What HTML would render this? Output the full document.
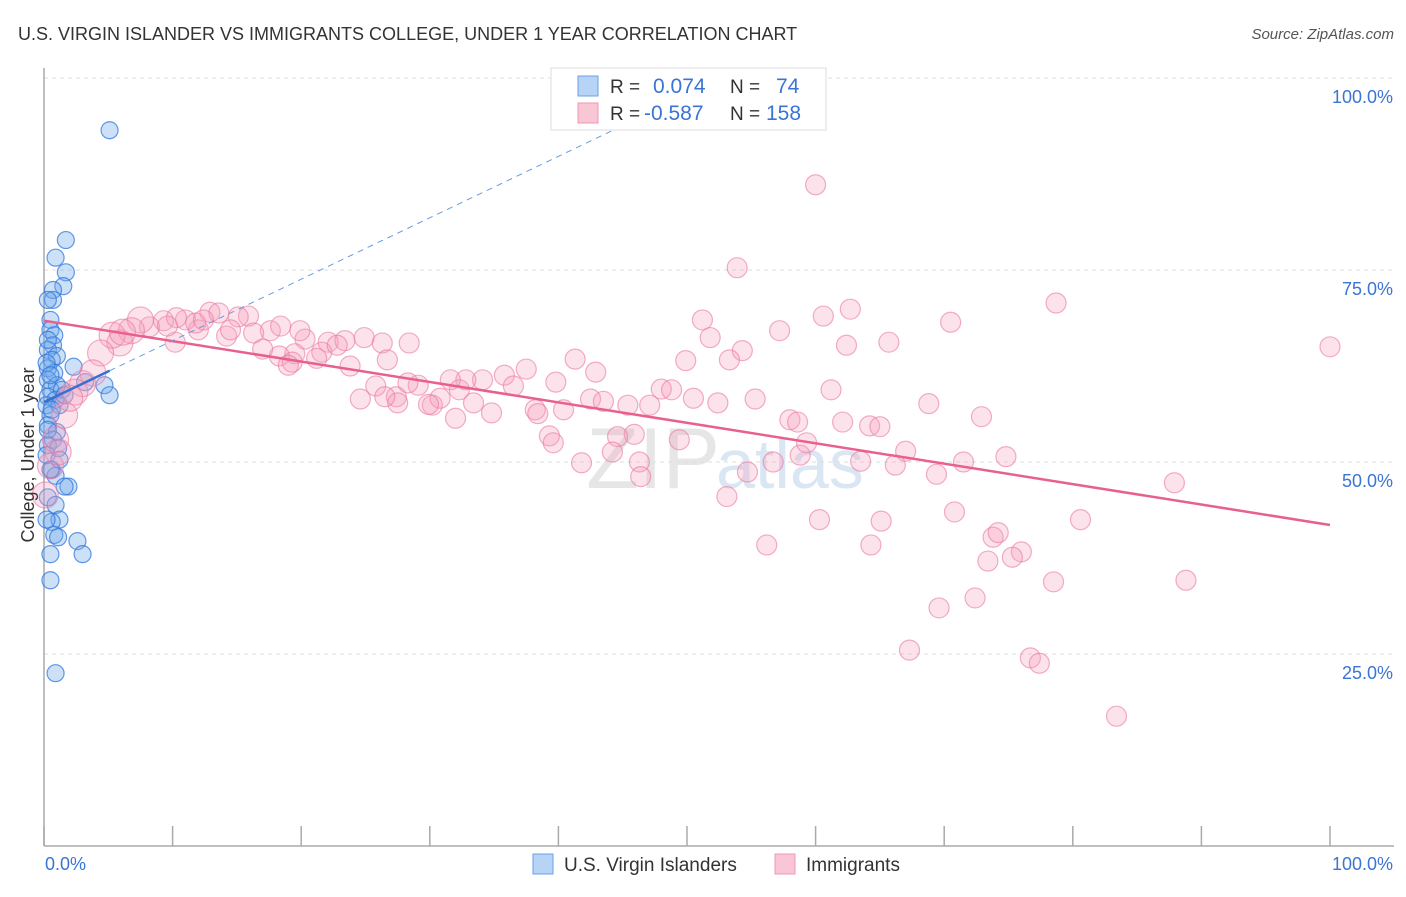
<!DOCTYPE html>
<html><head><meta charset="utf-8"><style>
body{margin:0;background:#fff;width:1406px;height:892px;overflow:hidden;font-family:"Liberation Sans",sans-serif}
svg text{font-family:"Liberation Sans",sans-serif}
</style></head><body>
<svg id="chart" width="1406" height="892" xmlns="http://www.w3.org/2000/svg">
<text x="18" y="40" font-size="18" fill="#333">U.S. VIRGIN ISLANDER VS IMMIGRANTS COLLEGE, UNDER 1 YEAR CORRELATION CHART</text>
<text x="1394" y="39" font-size="15" fill="#555" font-style="italic" text-anchor="end">Source: ZipAtlas.com</text>
<text x="720" y="488" font-size="86" fill="#e6e6e6" text-anchor="end" font-family="Liberation Serif">ZIP</text>
<text x="716" y="488" font-size="70" fill="#dbe6f5">atlas</text>
<g id="grid"></g><g id="axes"></g><g id="blue"></g><g id="pink"></g><g id="lines"></g>
<text transform="translate(34,455) rotate(-90)" font-size="18" fill="#333" text-anchor="middle">College, Under 1 year</text>
<text x="45" y="870" font-size="18" fill="#3a74d4">0.0%</text>
<text x="1393" y="870" font-size="18" fill="#3a74d4" text-anchor="end">100.0%</text>
<g>
<rect x="551" y="68" width="275" height="62" fill="#fff" stroke="#ddd"/>
<rect x="578" y="76" width="20" height="20" fill="#b7d3f5" stroke="#6aa0e6"/>
<rect x="578" y="103" width="20" height="20" fill="#f9c6d6" stroke="#ee97b5"/>
<text x="610" y="93" font-size="19" fill="#333">R = </text><text x="653" y="93" font-size="21" fill="#3a74d4">0.074</text>
<text x="730" y="93" font-size="19" fill="#333">N = </text><text x="776" y="93" font-size="21" fill="#3a74d4">74</text>
<text x="610" y="120" font-size="19" fill="#333">R = </text><text x="644" y="120" font-size="21" fill="#3a74d4">-0.587</text>
<text x="730" y="120" font-size="19" fill="#333">N = </text><text x="766" y="120" font-size="21" fill="#3a74d4">158</text>
</g>
<g><rect x="533" y="854" width="20" height="20" fill="#b7d3f5" stroke="#6aa0e6"/><text x="564" y="871" font-size="19" fill="#333">U.S. Virgin Islanders</text></g>
<g><rect x="775" y="854" width="20" height="20" fill="#f9c6d6" stroke="#ee97b5"/><text x="806" y="871" font-size="19" fill="#333">Immigrants</text></g>
</svg>
<script>
const yTicks=[25,50,75,100];
const yTickLabels=["25.0%","50.0%","75.0%","100.0%"];
const xTicks=[0,10,20,30,40,50,60,70,80,90,100];
const blueX=[5.1,1.7,0.9,1.7,1.5,0.7,0.7,0.5,0.5,0.8,0.7,0.3,1.0,0.6,0.3,2.3,0.8,0.3,1.0,0.5,1.4,0.3,0.9,0.2,1.2,3.2,4.7,5.1,0.5,0.3,1.0,0.7,0.3,1.1,0.6,0.9,1.9,0.3,0.9,1.2,0.6,0.8,1.1,2.6,0.5,3.0,0.5,0.9,0.3,0.3,0.2,0.5,1.6,0.6,0.2,1.2,0.2,1.6,0.5,0.3];
const blueY=[93.2,78.9,76.6,74.7,72.9,72.4,71.1,68.5,67.2,66.5,65.2,64.6,63.8,63.3,62.2,62.4,61.6,60.7,60.0,59.4,59.4,58.5,58.1,57.4,57.4,60.4,60.0,58.7,56.1,54.8,53.9,52.9,52.2,51.8,49.0,48.2,46.8,45.4,44.4,42.5,42.2,40.5,40.2,39.7,38.0,38.0,34.6,22.5,71.1,65.9,62.9,61.3,58.7,56.8,50.9,50.3,42.5,46.8,49.0,54.2];
const pinkX=[60.0,53.9,78.7,100,51.2,51.8,57.2,60.6,62.7,70.5,65.7,62.4,54.3,53.3,49.9,41.3,42.9,39.8,37.5,35.8,34.1,32.8,31.6,29.1,25.8,27.4,30.2,30.8,32.3,33.4,34.8,36.5,42.5,43.5,38.2,38.4,40.4,45.4,47.1,48.0,48.8,50.5,52.4,55.3,61.2,68.8,72.9,58.0,58.6,62.1,64.2,65.0,67.0,66.2,63.5,71.5,74.8,56.7,58.8,59.3,54.7,53.1,49.4,46.3,45.9,44.6,44.2,41.8,39.3,39.6,46.4,56.2,60.3,65.1,64.3,69.4,70.8,73.8,74.2,76.0,75.3,73.4,80.6,87.9,88.8,78.5,72.4,69.6,67.3,76.7,77.4,83.4,32.0,29.9,27.5,26.5,28.3,24.6,23.8,22.1,23.4,24.9,26.3,28.4,26.7,21.6,20.3,19.5,18.3,19.3,17.6,18.4,17.0,15.9,15.1,14.2,14.5,12.9,13.6,12.0,11.0,10.2,9.3,10.3,8.2,7.5,6.8,5.9,5.3,4.4,3.8,3.0,2.4,1.6,0.9,0.5,0.1,1.1,2.0,6.1,9.6,11.8,12.4,16.3,19.9,19.0,21.2,22.8];
const pinkY=[86.1,75.3,70.7,65.0,68.5,66.2,67.1,69.0,69.9,68.2,65.6,65.2,64.5,63.3,63.2,63.4,61.7,60.4,62.1,61.3,60.7,60.7,60.7,60.0,59.9,58.5,57.4,58.3,59.4,57.7,56.4,59.9,58.2,57.9,56.8,56.3,56.8,57.4,57.4,59.5,59.4,58.3,57.7,58.2,59.4,57.6,55.9,55.5,55.2,55.2,54.7,54.6,51.4,49.6,50.1,50.0,50.7,50.0,50.9,52.5,48.7,45.5,52.9,50.0,53.6,53.3,51.3,49.9,53.4,52.5,48.1,39.2,42.5,42.3,39.2,48.4,43.5,40.2,40.8,38.3,37.6,37.1,42.5,47.3,34.6,34.4,32.3,31.0,25.5,24.5,23.8,16.9,55.7,57.5,57.7,58.5,60.3,58.2,62.5,65.6,65.8,66.2,65.5,65.5,63.3,64.3,66.0,64.1,63.8,63.0,67.1,67.7,64.7,69.0,68.9,66.4,67.2,69.5,69.4,67.2,68.5,65.6,68.4,68.8,67.6,68.5,67.1,65.5,66.5,64.2,61.6,60.2,59.1,56.1,52.9,49.5,45.7,51.3,58.3,66.9,67.7,68.1,68.5,66.8,67.1,62.6,63.5,65.2];
const pinkTrend=[68.4,41.8];
const blueTrend=[57.8,0.8];
const X0=44,X1=1330,Y0=846,YS=7.68;
const sx=v=>X0+(X1-X0)*v/100, sy=v=>Y0-v*YS;
const NS="http://www.w3.org/2000/svg";
function mk(tag,attrs,parent){const e=document.createElementNS(NS,tag);for(const k in attrs)e.setAttribute(k,attrs[k]);document.getElementById(parent).appendChild(e);return e;}
yTicks.forEach((t,i)=>{
 const g=mk('line',{x1:44,x2:1394,y1:sy(t),y2:sy(t),stroke:'#ddd','stroke-dasharray':'4,4'},'grid');
 
 
 const l=mk('text',{x:1393,y:sy(t)+25,'font-size':18,fill:'#3a74d4','text-anchor':'end'},'grid');
 l.textContent=yTickLabels[i];
 
 
});
const ya=mk('line',{x1:44,x2:44,y1:68,y2:846,stroke:'#aaa','stroke-width':1.5},'axes');


const xa=mk('line',{x1:44,x2:1394,y1:846,y2:846,stroke:'#aaa','stroke-width':1.5},'axes');


xTicks.forEach(t=>{
 const k=mk('line',{x1:sx(t),x2:sx(t),y1:826,y2:846,stroke:'#aaa','stroke-width':1.5},'axes');
 
 
});
blueX.forEach((v,i)=>{
 const c=mk('circle',{cx:sx(v),cy:sy(blueY[i]),r:8.5,fill:'rgba(110,165,235,0.35)',stroke:'rgba(50,120,220,0.75)','stroke-width':1.2},'blue');
 
 
});
pinkX.forEach((v,i)=>{
 const r=v<8?13:10;
 const c=mk('circle',{cx:sx(v),cy:sy(pinkY[i]),r:r,fill:'rgba(245,160,190,0.3)',stroke:'rgba(235,120,160,0.6)','stroke-width':1.2},'pink');
 
 
});
const pl=mk('line',{x1:sx(0),y1:sy(pinkTrend[0]),x2:sx(100),y2:sy(pinkTrend[1]),stroke:'#e8608e','stroke-width':2.5},'lines');


const bd=mk('line',{x1:sx(5.1),y1:sy(blueTrend[0]+blueTrend[1]*5.1),x2:sx(45.6),y2:sy(blueTrend[0]+blueTrend[1]*45.6),stroke:'#6a9be0','stroke-width':1,'stroke-dasharray':'6,5'},'lines');


const bl=mk('line',{x1:sx(0),y1:sy(blueTrend[0]),x2:sx(5.1),y2:sy(blueTrend[0]+blueTrend[1]*5.1),stroke:'#3a6fd0','stroke-width':2.5},'lines');


</script>
</body></html>
